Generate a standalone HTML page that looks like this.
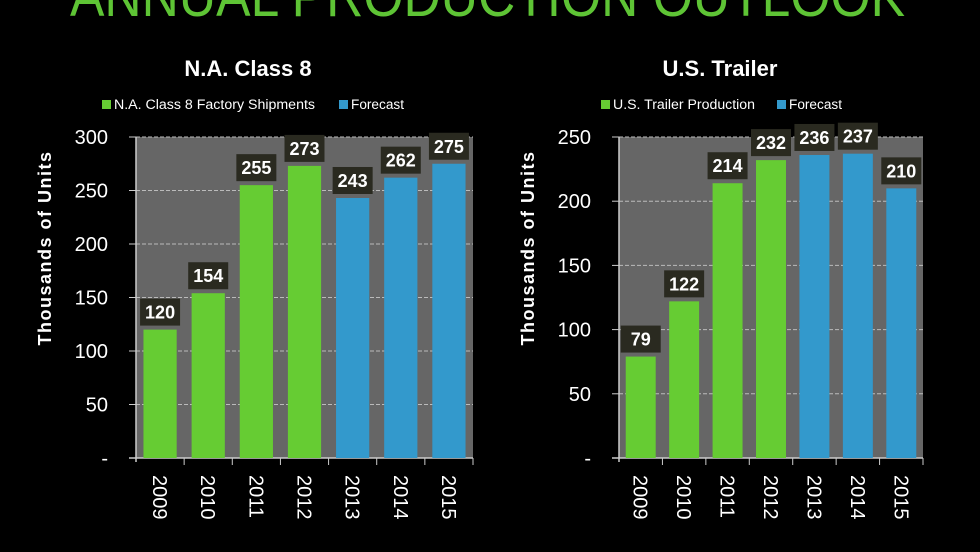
<!DOCTYPE html>
<html><head><meta charset="utf-8"><style>
html,body{margin:0;padding:0;background:#000;}
svg{display:block;}
</style></head><body>
<svg id="s" width="980" height="552" xmlns="http://www.w3.org/2000/svg" font-family="Liberation Sans, sans-serif">
<rect width="980" height="552" fill="#000"/>
<text x="70" y="16" font-size="58" fill="#5ec435" textLength="835" lengthAdjust="spacingAndGlyphs">ANNUAL PRODUCTION OUTLOOK</text>
<text x="248" y="76" font-size="22" font-weight="bold" fill="#fff" text-anchor="middle">N.A. Class 8</text>
<text x="720" y="76" font-size="22" font-weight="bold" fill="#fff" text-anchor="middle">U.S. Trailer</text>
<rect x="102" y="100" width="9" height="9" fill="#66cc33"/>
<text x="114" y="109" font-size="13.5" fill="#fff" textLength="201" lengthAdjust="spacingAndGlyphs">N.A. Class 8 Factory Shipments</text>
<rect x="339" y="100" width="9" height="9" fill="#3399cc"/>
<text x="351" y="109" font-size="13.5" fill="#fff" textLength="53" lengthAdjust="spacingAndGlyphs">Forecast</text>
<rect x="601" y="100" width="9" height="9" fill="#66cc33"/>
<text x="613" y="109" font-size="13.5" fill="#fff" textLength="142" lengthAdjust="spacingAndGlyphs">U.S. Trailer Production</text>
<rect x="777" y="100" width="9" height="9" fill="#3399cc"/>
<text x="789" y="109" font-size="13.5" fill="#fff" textLength="53" lengthAdjust="spacingAndGlyphs">Forecast</text>
<text transform="translate(51,248) rotate(-90)" font-size="18" font-weight="bold" fill="#fff" text-anchor="middle" letter-spacing="1.5">Thousands  of  Units</text>
<text transform="translate(534,248) rotate(-90)" font-size="18" font-weight="bold" fill="#fff" text-anchor="middle" letter-spacing="1.5">Thousands  of  Units</text>
<g id="g"></g>
</svg>
<script>
var g=document.getElementById('g'),h='';
function chart(x0,x1,max,step,vals,labx){
 var y0=458,yt=137,n=7,cw=(x1-x0)/n,bw=cw*0.69;
 h+='<rect x="'+x0+'" y="'+yt+'" width="'+(x1-x0)+'" height="'+(y0-yt)+'" fill="#666"/>';
 for(var v=0;v<=max;v+=step){var y=y0-(y0-yt)*v/max;
  if(v>0)h+='<line x1="'+x0+'" x2="'+x1+'" y1="'+y+'" y2="'+y+'" stroke="#bbb" stroke-dasharray="4,2" stroke-width="1"/>';
  h+='<line x1="'+(x0-7)+'" x2="'+x0+'" y1="'+y+'" y2="'+y+'" stroke="#ccc"/>';
  h+='<text x="'+labx+'" y="'+(y+7)+'" font-size="20" fill="#fff" text-anchor="end">'+(v==0?'-':v)+'</text>';}
 h+='<line x1="'+x0+'" x2="'+x0+'" y1="'+yt+'" y2="'+(y0+4)+'" stroke="#ccc" stroke-width="1.5"/>';
 h+='<line x1="'+(x0-7)+'" x2="'+x1+'" y1="'+y0+'" y2="'+y0+'" stroke="#ccc" stroke-width="1.5"/>';
 for(var i=0;i<n;i++){var cx=x0+cw*(i+0.5),v=vals[i],y=y0-(y0-yt)*v/max;
  h+='<line x1="'+(x0+cw*(i+1))+'" x2="'+(x0+cw*(i+1))+'" y1="'+y0+'" y2="'+(y0+7)+'" stroke="#ccc"/>';
  h+='<rect x="'+(cx-bw/2)+'" y="'+y+'" width="'+bw+'" height="'+(y0-y)+'" fill="'+(i<4?'#66cc33':'#3399cc')+'"/>';
  var by=y-31;
  h+='<rect x="'+(cx-20)+'" y="'+by+'" width="40" height="27" fill="#2a2a20"/>';
  h+='<text x="'+cx+'" y="'+(by+20)+'" font-size="18" font-weight="bold" fill="#fff" text-anchor="middle">'+v+'</text>';
  h+='<text transform="translate('+(cx-7)+',475) rotate(90)" font-size="20" fill="#fff">'+(2009+i)+'</text>';}
}
chart(136,473,300,50,[120,154,255,273,243,262,275],108);
chart(619,923,250,50,[79,122,214,232,236,237,210],591);
g.innerHTML=h;
</script>
</body></html>
